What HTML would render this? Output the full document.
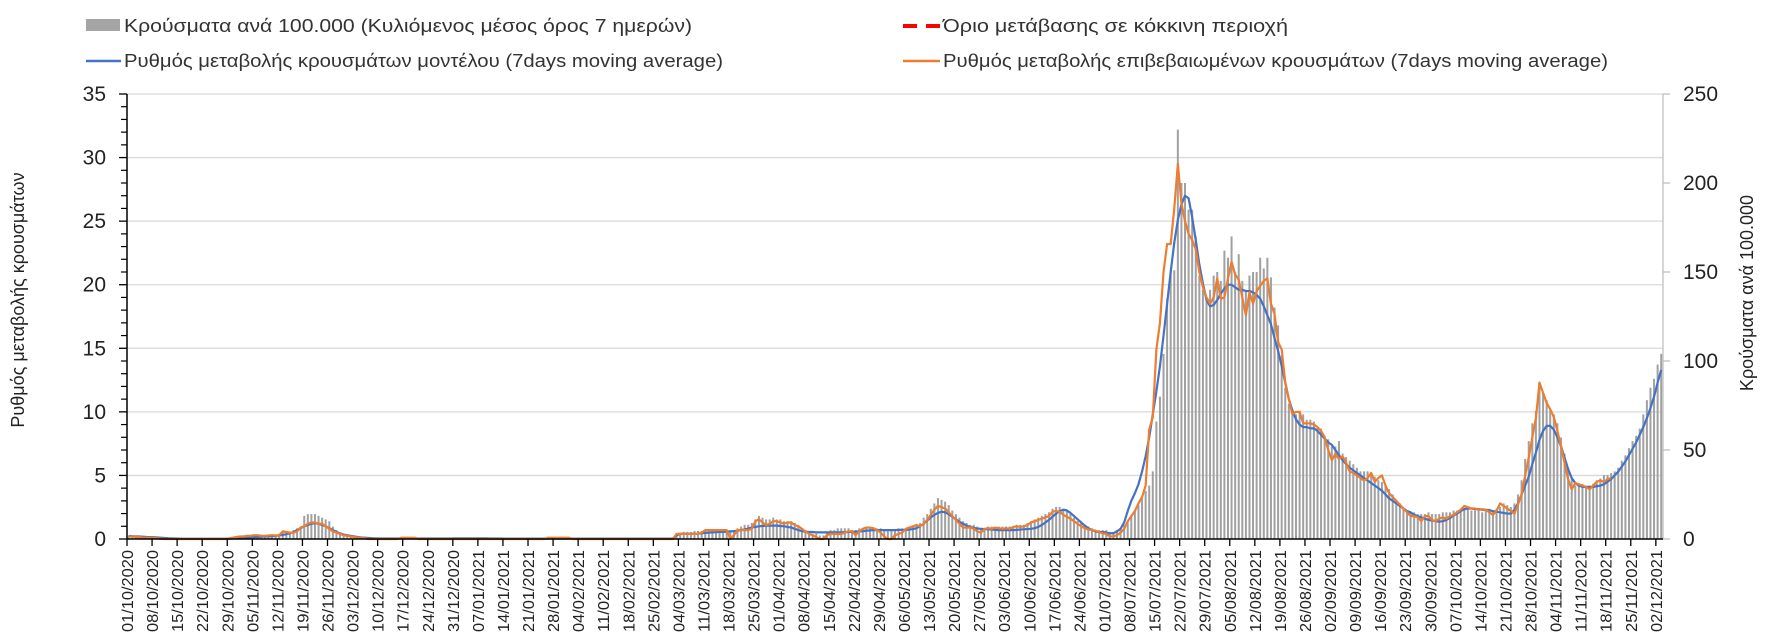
<!DOCTYPE html>
<html><head><meta charset="utf-8"><style>
html,body{margin:0;padding:0;background:#fff;}
svg{display:block;font-family:"Liberation Sans",sans-serif;}
</style></head><body>
<svg id="chart" width="1771" height="641" viewBox="0 0 1771 641">
<rect x="0" y="0" width="1771" height="641" fill="#fff"/>
<g id="grid"></g>
<g id="bars"></g>
<g id="lines"></g>
<g id="axes"></g>
<g font-size="18" fill="#333">
  <g>
    <rect x="86" y="19" width="34" height="12" fill="#a5a5a5"/>
    <text x="124" y="32" textLength="568" lengthAdjust="spacingAndGlyphs">Κρούσματα ανά 100.000 (Κυλιόμενος μέσος όρος 7 ημερών)</text>
  </g>
  <g>
    <line x1="86" y1="61" x2="121" y2="61" stroke="#4472c4" stroke-width="2.5"/>
    <text x="124" y="67" textLength="599" lengthAdjust="spacingAndGlyphs">Ρυθμός μεταβολής κρουσμάτων μοντέλου (7days moving average)</text>
  </g>
  <g>
    <line x1="903" y1="26" x2="940" y2="26" stroke="#ff0000" stroke-width="4" stroke-dasharray="14,9"/>
    <text x="943" y="32" textLength="345" lengthAdjust="spacingAndGlyphs">Όριο μετάβασης σε κόκκινη περιοχή</text>
  </g>
  <g>
    <line x1="903" y1="61" x2="940" y2="61" stroke="#ed7d31" stroke-width="2.5"/>
    <text x="943" y="67" textLength="665" lengthAdjust="spacingAndGlyphs">Ρυθμός μεταβολής επιβεβαιωμένων κρουσμάτων (7days moving average)</text>
  </g>
</g>
<text transform="translate(24,300) rotate(-90)" text-anchor="middle" font-size="18" fill="#222">Ρυθμός μεταβολής κρουσμάτων</text>
<text transform="translate(1753,293) rotate(-90)" text-anchor="middle" font-size="18" fill="#222">Κρούσματα ανά 100.000</text>
</svg>
<script>
// Daily data from 01/10/2020 (index 0) onward
const startDate = [2020, 9, 1];
const leftTicks = [0, 5, 10, 15, 20, 25, 30, 35];
const rightTicks = [0, 50, 100, 150, 200, 250];
const modelRate = [
.25,.22,.2,.2,.18,.16,.15,
.14,.12,.1,.08,.06,.05,.04,
.03,.02,.02,.02,.02,.02,.02,
.02,.02,.02,.02,.02,.02,.02,
.03,.04,.06,.08,.1,.12,.14,
.15,.16,.18,.2,.2,.22,.25,
.28,.32,.38,.45,.55,.7,.85,
1.0,1.1,1.2,1.25,1.2,1.1,1.0,
.85,.7,.55,.45,.35,.3,.25,
.2,.15,.12,.1,.08,.06,.05,
.04,.04,.04,.04,.04,.04,.04,
.04,.04,.04,.04,.04,.04,.04,
.04,.04,.04,.04,.04,.04,.04,
.05,.05,.05,.05,.05,.05,.05,
.05,.05,.05,.04,.04,.04,.04,
.03,.03,.03,.03,.03,.03,.03,
.03,.03,.03,.03,.03,.03,.03,
.03,.03,.03,.03,.03,.03,.03,
.03,.03,.03,.03,.03,.03,.03,
.03,.03,.03,.03,.03,.03,.03,
.03,.03,.03,.03,.03,.03,.03,
.03,.03,.03,.03,.03,.03,.3,
.4,.4,.4,.4,.4,.42,.45,
.48,.5,.52,.54,.55,.56,.58,
.6,.62,.65,.7,.75,.82,.9,
.95,1.0,1.02,1.05,1.05,1.05,1.05,
1.02,1.0,.95,.9,.8,.7,.62,
.58,.55,.55,.52,.52,.52,.52,
.52,.52,.52,.52,.54,.55,.56,
.58,.6,.62,.65,.68,.7,.7,
.7,.7,.7,.7,.7,.72,.72,
.72,.74,.78,.85,1.0,1.2,1.45,
1.7,1.9,2.05,2.15,2.1,1.95,1.75,
1.55,1.35,1.2,1.05,.95,.88,.82,
.8,.78,.76,.74,.72,.7,.7,
.7,.7,.7,.72,.74,.76,.78,
.8,.85,.95,1.1,1.3,1.5,1.75,
2.0,2.2,2.3,2.25,2.05,1.8,1.55,
1.3,1.05,.85,.7,.6,.55,.55,
.5,.45,.45,.6,.8,1.3,2.2,
3.0,3.6,4.3,5.3,6.5,8.0,9.8,
11.6,13.6,16.0,18.5,21.0,23.3,25.1,
26.3,27.0,26.8,25.3,23.5,21.6,20.1,
18.8,18.3,18.4,18.8,19.3,19.7,20.0,
20.0,19.8,19.6,19.6,19.5,19.5,19.4,
19.2,18.9,18.3,17.6,16.9,15.8,14.8,
13.6,12.3,11.0,10.1,9.4,9.0,8.8,
8.8,8.7,8.7,8.5,8.2,7.9,7.6,
7.4,7.0,6.6,6.2,5.9,5.6,5.4,
5.2,5.0,4.8,4.6,4.4,4.2,4.0,
3.8,3.5,3.2,3.0,2.8,2.6,2.4,
2.2,2.1,1.9,1.8,1.7,1.6,1.5,
1.45,1.4,1.36,1.4,1.5,1.65,1.85,
2.0,2.2,2.35,2.4,2.4,2.35,2.35,
2.3,2.3,2.25,2.2,2.15,2.1,2.05,
2.0,2.0,2.3,2.8,3.5,4.2,4.9,
5.9,6.8,7.8,8.5,8.9,8.9,8.6,
8.0,7.3,6.4,5.5,4.8,4.4,4.2,
4.1,4.1,4.1,4.1,4.15,4.2,4.3,
4.5,4.7,5.0,5.3,5.7,6.1,6.6,
7.1,7.6,8.2,8.8,9.5,10.3,11.2,
12.3,13.3
];
const confirmedRate = [
.2,.2,.15,.15,.1,.1,.1,
.08,.05,.02,0,0,0,0,
0,0,0,0,0,0,0,
0,0,0,0,0,0,0,
.05,.1,.15,.2,.2,.25,.25,
.3,.3,.25,.25,.28,.3,.28,
.3,.6,.55,.5,.5,.6,.9,
1.0,1.2,1.3,1.3,1.2,1.2,1.0,
.8,.6,.5,.4,.3,.25,.2,
.15,.1,.08,.05,0,0,0,
0,0,0,0,0,0,.1,
.1,.1,.1,.1,0,0,0,
0,0,0,0,0,0,0,
0,0,0,0,0,0,0,
0,0,0,0,0,0,0,
0,0,0,0,0,0,0,
0,0,0,0,0,.1,.1,
.1,.1,.1,.1,.1,0,0,
0,0,0,0,0,0,0,
0,0,0,0,0,0,0,
0,0,0,0,0,0,0,
0,0,0,0,0,0,.4,
.4,.4,.4,.4,.4,.4,.5,
.7,.7,.7,.7,.7,.7,.7,
0,.3,.7,.7,.7,.7,.8,
1.4,1.55,1.3,1.1,1.2,1.4,1.4,
1.3,1.2,1.3,1.3,1.1,1.0,.8,
.6,.4,.3,.15,0,0,.3,
.4,.4,.4,.4,.5,.6,.6,
.3,.6,.8,.9,.9,.85,.7,
.5,.2,0,0,.3,.4,.5,
.8,.9,1.0,1.1,1.0,1.2,1.5,
1.9,2.3,2.6,2.5,2.4,2.1,1.8,
1.5,1.2,.9,.9,.9,.8,.6,
.5,.8,.85,.8,.9,.85,.8,
.85,.8,.95,1.0,.95,1.0,1.1,
1.3,1.4,1.5,1.6,1.7,1.8,2.15,
2.2,2.15,1.9,1.75,1.6,1.4,1.2,
1.0,.85,.75,.7,.65,.55,.45,
.4,.2,.2,.3,.5,.8,1.4,
1.8,2.2,2.8,3.3,4.2,8.6,9.6,
14.9,17.0,21,23.2,23.2,26,29.5,
26.4,25,24,23.5,22.8,21,19.8,
19.0,18.5,19.0,20.5,18.9,19.0,20.5,
21.8,20.8,20.4,19,17.6,19.4,18.5,
19.5,19.9,20.3,20.5,18.5,17.7,15.5,
14.9,12.3,11,9.8,10,10,9.1,
9.1,9.1,9.0,8.8,8.5,8.0,7.0,
6.2,6.7,6.3,6.5,6.0,5.3,5.2,
5.0,4.8,4.6,4.8,5.2,4.5,4.8,
5.0,4.2,3.6,3.3,3.0,2.7,2.4,
2.1,1.8,1.8,1.7,1.4,1.8,1.8,
1.5,1.4,1.6,1.7,1.6,1.8,1.9,
2.1,2.3,2.6,2.5,2.4,2.4,2.3,
2.35,2.3,2.1,1.9,2.2,2.8,2.6,
2.4,2.2,2.0,2.7,3.5,5.0,6.4,
8.0,9.5,12.3,11.5,10.7,10.2,9.6,
8.5,7.3,6.0,4.7,3.9,4.4,4.3,
4.2,4.1,3.9,4.2,4.5,4.6,4.5,
4.7,4.8
];
const casesPer100k = [
2,2,2,1.5,1.5,1,1,
1,.5,.5,0,0,0,0,
0,0,0,0,0,0,0,
0,0,0,0,0,0,0,
0,1,1.5,1.5,2,2,2,
2.5,2.5,2.5,2,2.5,2.5,2.5,
3,4,4,4,5,6,7,
13,14,14,14,13,12,11,
10,7,5,3,2,1.5,1,
1,.5,0,0,0,0,0,
0,0,0,0,0,0,0,
0,0,0,0,0,0,0,
0,0,0,0,0,0,0,
0,0,0,0,0,0,0,
0,0,0,0,0,0,0,
0,0,0,0,0,0,0,
0,0,0,0,0,0,0,
0,0,0,0,0,0,0,
0,0,0,0,0,0,0,
0,0,0,0,0,0,0,
0,0,0,0,0,0,0,
0,0,0,0,0,0,3,
3.5,4,4,4,4.5,4.5,4.5,
5,5,5,5.5,5.5,5.5,5,
4,5,6,7,8,8,9,
11,13,12,11,11,12,11,
11,10,10,10,9,8,6,
5,4,3,3,2,2,4,
5,5,6,6,6,6,5,
5,6,6,7,7,6,6,
6,5,5,5,5,6,6,
6,6,7,8,9,12,14,
17,20,23,22,21,19,16,
14,12,10,9,8,8,7,
6,6,7,7,7,7,7,
7,7,7,8,8,8,9,
10,11,12,13,14,15,17,
18,18,17,16,14,12,10,
9,8,7,6,5,5,5,
5,4,4,5,6,8,10,
13,16,19,23,27,30,38,
66,80,104,135,151,151,230,
200,200,185,185,170,148,140,
135,140,148,150,145,162,158,
170,150,160,145,140,148,150,
150,158,152,158,147,130,120,
103,85,76,72,70,72,70,
67,67,66,63,62,58,56,
52,52,55,48,46,44,42,
40,38,38,38,37,35,33,
32,30,28,25,22,20,17,
16,15,15,14,14,14,15,
14,14,14,15,15,15,16,
16,17,17,17,16,16,16,
15,16,17,16,17,18,20,
19,18,20,25,33,45,55,
65,72,88,82,78,73,70,
65,57,48,40,34,30,31,
31,30,30,31,33,34,36,
36,37,38,40,44,47,51,
55,58,62,70,78,85,90,
98,104
];

const NS = 'http://www.w3.org/2000/svg';
const X0 = 127, X1 = 1663, YT = 94, YB = 539;
const NDAYS = 429;
const dayW = (X1 - X0) / NDAYS;
function xCat(i) { return X0 + (i + 0.5) * dayW; }
function xTick(i) { return X0 + i * dayW; }
function yLeft(v) { return YB - (v / 35) * (YB - YT); }
function yRight(v) { return YB - (v / 250) * (YB - YT); }
function mk(tag, attrs, parent) {
  const el = document.createElementNS(NS, tag);
  for (const k in attrs) el.setAttribute(k, attrs[k]);
  parent.appendChild(el);
  return el;
}
const grid = document.getElementById('grid');
const bars = document.getElementById('bars');
const lines = document.getElementById('lines');
const axes = document.getElementById('axes');

for (const t of leftTicks) {
  if (t > 0) {
    const g = mk('line', {x1: X0, x2: X1, y1: yLeft(t), y2: yLeft(t), stroke: '#d9d9d9', 'stroke-width': 1.3}, grid);
    
    
  }
  const tk = mk('line', {x1: X0 - 8, x2: X0, y1: yLeft(t), y2: yLeft(t), stroke: '#000', 'stroke-width': 1.3}, axes);
  
  
  const lb = mk('text', {x: 106, y: yLeft(t) + 7, 'text-anchor': 'end', 'font-size': 21, fill: '#222'}, axes);
  lb.textContent = String(t);
  
  
}
for (let m = 1; m < 35; m++) {
  if (m % 5 === 0) continue;
  const mt = mk('line', {x1: X0 - 6, x2: X0, y1: yLeft(m), y2: yLeft(m), stroke: '#000', 'stroke-width': 1.2}, axes);
  
  
}
const ra = mk('line', {x1: X1, x2: X1, y1: YT, y2: YB, stroke: '#bfbfbf', 'stroke-width': 1.3}, axes);


for (const t of rightTicks) {
  const tk = mk('line', {x1: X1, x2: X1 + 7, y1: yRight(t), y2: yRight(t), stroke: '#bfbfbf', 'stroke-width': 1.3}, axes);
  
  
  const lb = mk('text', {x: 1683, y: yRight(t) + 7, 'font-size': 21, fill: '#222'}, axes);
  lb.textContent = String(t);
  
  
}
for (let i = 0; i < casesPer100k.length; i++) {
  const v = casesPer100k[i];
  if (v <= 0) continue;
  const b = mk('rect', {x: xCat(i) - 1, y: yRight(v), width: 2, height: YB - yRight(v), fill: '#a0a0a0'}, bars);
  
  
}
function path(arr, fn) {
  let d = '';
  for (let i = 0; i < arr.length; i++) d += (i ? 'L' : 'M') + xCat(i).toFixed(2) + ' ' + fn(arr[i]).toFixed(2);
  return d;
}
const pb = mk('path', {d: path(modelRate, yLeft), fill: 'none', stroke: '#4472c4', 'stroke-width': 2.2, 'stroke-linejoin': 'round'}, lines);


const po = mk('path', {d: path(confirmedRate, yLeft), fill: 'none', stroke: '#ed7d31', 'stroke-width': 2.2, 'stroke-linejoin': 'round'}, lines);



const la = mk('line', {x1: X0, x2: X0, y1: YT, y2: YB, stroke: '#000', 'stroke-width': 1.5}, axes);


const xa = mk('line', {x1: X0, x2: X1, y1: YB, y2: YB, stroke: '#000', 'stroke-width': 1.5}, axes);


function pad(n) { return (n < 10 ? '0' : '') + n; }
for (let i = 0; i < NDAYS; i += 7) {
  const x = xTick(i);
  const tk = mk('line', {x1: x, x2: x, y1: YB, y2: YB + 7, stroke: '#000', 'stroke-width': 1.3}, axes);
  
  
  const dt = new Date(Date.UTC(startDate[0], startDate[1], startDate[2] + i));
  const s = pad(dt.getUTCDate()) + '/' + pad(dt.getUTCMonth() + 1) + '/' + dt.getUTCFullYear();
  const lb = mk('text', {transform: 'translate(' + (x + 6).toFixed(1) + ',' + (YB + 11) + ') rotate(-90)', 'text-anchor': 'end', 'font-size': 16, fill: '#222', textLength: 82, lengthAdjust: 'spacingAndGlyphs'}, axes);
  lb.textContent = s;
  
  
}
</script>
</body></html>
